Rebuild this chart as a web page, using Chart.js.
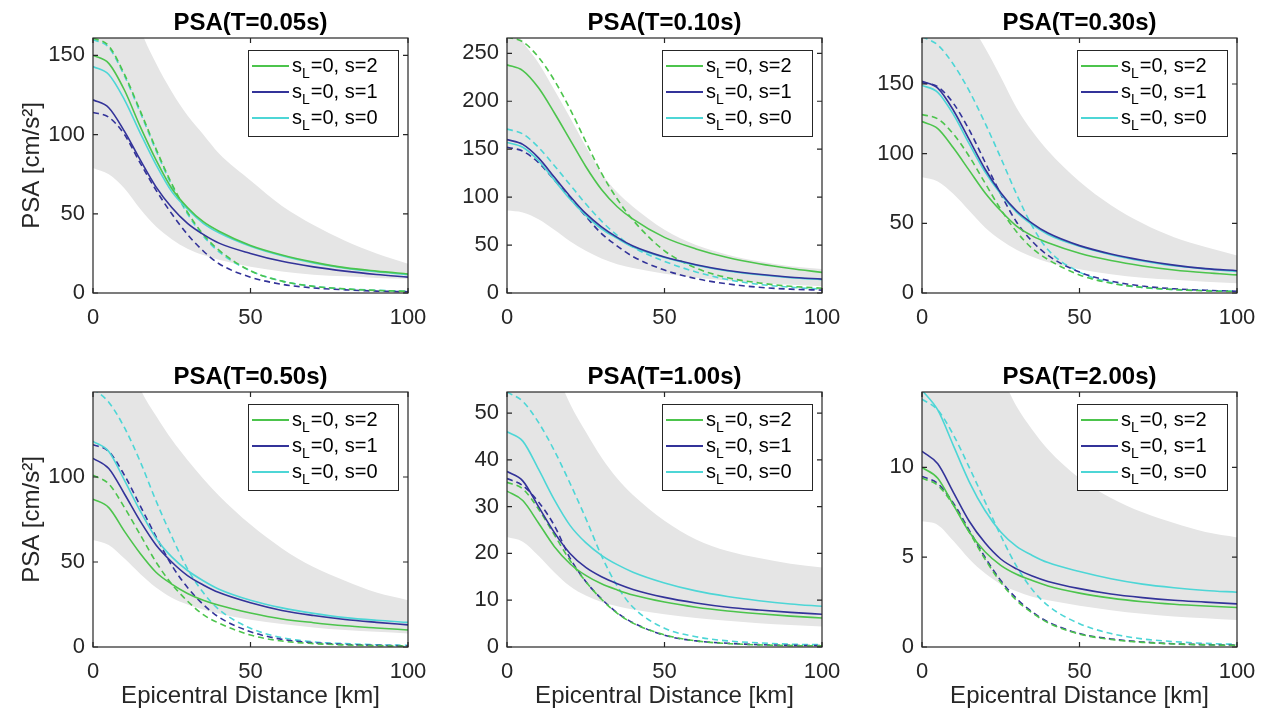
<!DOCTYPE html>
<html>
<head>
<meta charset="utf-8">
<title>PSA vs epicentral distance</title>
<script src="https://cdn.jsdelivr.net/npm/chart.js@4.4.1/dist/chart.umd.min.js"></script>
<style>
  html, body { margin: 0; padding: 0; background: #fff; }
  #wrap { position: relative; width: 1263px; height: 716px; overflow: hidden; }
  #wrap canvas { position: absolute; }
</style>
</head>
<body>
<div id="wrap"></div>
<script>
const distance = [0, 5, 10, 15, 20, 25, 30, 35, 40, 50, 60, 70, 80, 90, 100];
const periods = ['0.05', '0.10', '0.30', '0.50', '1.00', '2.00'];
const yMax = [161, 266, 183, 150, 54.5, 14.2];
const yTicks = [
  [0, 50, 100, 150],
  [0, 50, 100, 150, 200, 250],
  [0, 50, 100, 150],
  [0, 50, 100],
  [0, 10, 20, 30, 40, 50],
  [0, 5, 10]
];
const xTicks = [0, 50, 100];
const legendLabels = ['s_L=0, s=2', 's_L=0, s=1', 's_L=0, s=0'];

// one row per period (T = 0.05, 0.10, 0.30, 0.50, 1.00, 2.00 s)
const bandLow = [
  [79, 75, 66, 53, 42, 34, 28, 24, 21, 16.5, 13.5, 11.5, 10.5, 9.5, 9],
  [86, 84, 77, 66, 54, 44, 36, 30, 26, 20, 16, 13, 10.5, 8.5, 7],
  [83, 80, 71, 59, 47, 38, 31, 26, 22, 17, 13.5, 11, 9.5, 8, 7],
  [63, 60, 52, 43, 35, 29, 25, 22, 19.5, 16, 13.5, 11.5, 10, 9, 8],
  [23.5, 22.5, 19.5, 16, 13, 11, 9.6, 8.7, 8, 7, 6.2, 5.6, 5.1, 4.7, 4.4],
  [7, 6.8, 5.9, 4.9, 4.1, 3.5, 3.1, 2.8, 2.6, 2.3, 2.05, 1.85, 1.7, 1.6, 1.5]
];
const bandHigh = [
  [235, 225, 200, 167, 145, 127, 112, 100, 88, 71, 55, 43, 33, 25, 18.5],
  [290, 262, 240, 212, 183, 153, 125, 105, 90, 66, 50, 40, 33, 28, 25],
  [260, 240, 215, 195, 176, 155, 133, 116, 102, 80, 63, 50, 40, 33, 27],
  [230, 205, 178, 152, 136, 122, 110, 99, 89, 72, 58, 47, 39, 32, 27.5],
  [85, 78, 70, 60, 52, 46, 40.5, 36, 32.5, 27, 23, 20.5, 19, 17.8, 17],
  [24, 23, 21, 19, 17, 15.2, 13.4, 12.1, 11, 9.4, 8.3, 7.5, 6.9, 6.4, 6.1]
];
const solidS2 = [
  [150, 145, 128, 105, 84, 66, 54, 45, 39, 30, 24, 19.5, 16, 13.8, 12],
  [238, 232, 214, 188, 160, 132, 108, 90, 77, 58, 46, 37, 30.5, 25.5, 21.5],
  [123, 118, 104, 88, 72, 59, 48, 41, 36, 28.5, 23.3, 19.4, 16.5, 14.5, 13],
  [87, 82, 68, 55, 44, 37, 31.5, 27.5, 24.5, 20, 16.5, 14.3, 12.5, 11.2, 10],
  [33.3, 31.3, 26.5, 21.5, 17.8, 15.3, 13.5, 12.2, 11.1, 9.6, 8.5, 7.7, 7.1, 6.6, 6.2],
  [10, 9.4, 7.9, 6.4, 5.3, 4.55, 4.05, 3.7, 3.4, 3, 2.72, 2.52, 2.38, 2.28, 2.2]
];
const solidS1 = [
  [122, 117, 102, 84, 67, 54, 44, 37, 31.5, 25, 20, 16.5, 13.8, 11.7, 10],
  [160, 155, 141, 121, 101, 83, 69, 58, 49, 37.5, 29.5, 23.5, 19.5, 16.5, 14.5],
  [152, 147, 131, 110, 89, 72, 59, 50, 43, 34, 28, 23.5, 20, 17.5, 16],
  [111, 105, 90, 74, 60, 50, 42, 36.5, 32, 26, 21.5, 18.5, 16.2, 14.5, 13],
  [37.5, 35.5, 30, 24.5, 20, 17, 15, 13.5, 12.3, 10.6, 9.4, 8.5, 7.9, 7.4, 7],
  [10.9, 10.2, 8.6, 7, 5.8, 4.9, 4.35, 3.95, 3.65, 3.25, 2.95, 2.75, 2.6, 2.5, 2.4]
];
const solidS0 = [
  [143, 138, 122, 101, 81, 64, 53, 44, 38, 29.5, 23.5, 19, 15.7, 13.4, 11.6],
  [157, 152, 138, 118, 98, 81, 67, 57, 48, 37, 29, 23, 19, 16, 14],
  [149, 144, 128, 107, 87, 71, 58, 49, 42, 33.5, 27.5, 23, 19.5, 17.3, 15.5],
  [121, 115, 98, 80, 64, 53, 45, 39, 34, 27.5, 23, 19.8, 17.3, 15.7, 14.5],
  [46, 44, 38, 31.5, 26, 22.3, 19.6, 17.6, 16, 13.7, 12, 10.8, 9.9, 9.2, 8.7],
  [14.3, 13.2, 11.2, 9.2, 7.6, 6.4, 5.6, 5.1, 4.7, 4.2, 3.8, 3.5, 3.3, 3.15, 3.05]
];
const dashedS2 = [
  [161, 156, 138, 115, 91, 69, 51, 37, 27, 14, 7.5, 4.2, 2.6, 1.6, 1],
  [267, 262, 246, 222, 192, 158, 125, 98, 76, 44, 26, 16, 10.5, 7, 5],
  [128, 125, 114, 98, 79, 60, 44, 32, 24, 13, 7, 4, 2.5, 1.5, 1],
  [101, 96, 82, 66, 50, 37, 27, 19, 14, 7, 3.5, 2, 1.2, 0.8, 0.5],
  [35.2, 33.8, 29.5, 24, 18.5, 14, 10.2, 7.2, 5.1, 2.6, 1.3, 0.75, 0.45, 0.3, 0.25],
  [9.4, 9, 7.9, 6.4, 4.9, 3.6, 2.6, 1.9, 1.35, 0.72, 0.42, 0.26, 0.17, 0.12, 0.09]
];
const dashedS1 = [
  [114, 111, 100, 82, 65, 50, 37, 26.5, 18.5, 10, 5.5, 3.2, 2, 1.2, 0.8],
  [152, 148, 136, 118, 99, 80, 62, 49, 38, 24, 15, 9.5, 6, 4, 3],
  [151, 148, 136, 117, 94, 71, 51, 37, 27, 15, 8.5, 5, 3, 2, 1.2],
  [119, 115, 101, 83, 65, 48, 35, 25, 17.5, 9, 4.5, 2.5, 1.5, 1, 0.7],
  [36, 34.5, 31, 26, 19, 14, 10.3, 7.3, 5.2, 2.5, 1.3, 0.8, 0.5, 0.35, 0.3],
  [9.5, 9.1, 8, 6.5, 5, 3.7, 2.7, 1.95, 1.4, 0.75, 0.45, 0.28, 0.18, 0.13, 0.1]
];
const dashedS0 = [
  [160, 155, 137, 114, 90, 68, 50, 36, 26, 14, 7.5, 4.2, 2.6, 1.7, 1.1],
  [171, 166, 152, 133, 113, 93, 75, 60, 48, 33, 22, 14, 9, 6, 4],
  [184, 178, 164, 145, 122, 97, 71, 48, 31, 15, 7.5, 4, 2.5, 1.8, 1.3],
  [152, 144, 129, 109, 86, 65, 46, 32, 22, 11, 5.5, 3, 2, 1.3, 1],
  [54.5, 52.5, 48, 42, 35, 27.5, 19.5, 13, 8.5, 4, 2.2, 1.3, 0.9, 0.6, 0.5],
  [13.8, 13.2, 11.8, 10, 8.1, 6.2, 4.5, 3.2, 2.3, 1.3, 0.75, 0.45, 0.3, 0.2, 0.15]
];

const FONT = "'Liberation Sans', Arial, Helvetica, sans-serif";
const axisColor = '#262626';
const green = '#4cc44c';
const blue = '#333399';
const cyan = '#4dd6d6';
const bandColor = '#e5e5e5';

Chart.defaults.font.family = FONT;

// box around the axes with inward ticks on all four sides (matlab "box on")
const boxPlugin = {
  id: 'matlabBox',
  afterDatasetsDraw(chart) {
    const { ctx, chartArea: a, scales: { x, y } } = chart;
    ctx.save();
    ctx.strokeStyle = axisColor;
    ctx.lineWidth = 1.2;
    ctx.strokeRect(a.left, a.top, a.right - a.left, a.bottom - a.top);
    ctx.beginPath();
    x.ticks.forEach(t => {
      const px = x.getPixelForValue(t.value);
      ctx.moveTo(px, a.bottom); ctx.lineTo(px, a.bottom - 5);
      ctx.moveTo(px, a.top); ctx.lineTo(px, a.top + 5);
    });
    y.ticks.forEach(t => {
      const py = y.getPixelForValue(t.value);
      ctx.moveTo(a.left, py); ctx.lineTo(a.left + 5, py);
      ctx.moveTo(a.right, py); ctx.lineTo(a.right - 5, py);
    });
    ctx.stroke();
    ctx.restore();
  }
};

// legend box in the upper right, label "s_L" drawn with a subscript L
const legendPlugin = {
  id: 'boxLegend',
  afterDraw(chart) {
    const { ctx, chartArea: a } = chart;
    const items = chart.data.datasets.filter(d => d.inLegend);
    const left = a.left + 155, top = a.top + 12, w = 150, h = 86;
    ctx.save();
    ctx.fillStyle = '#fff';
    ctx.fillRect(left, top, w, h);
    ctx.strokeStyle = axisColor;
    ctx.lineWidth = 1;
    ctx.strokeRect(left + 0.5, top + 0.5, w, h);
    items.forEach((d, k) => {
      const cy = top + 16 + k * 26;
      ctx.strokeStyle = d.borderColor;
      ctx.lineWidth = 1.8;
      ctx.beginPath();
      ctx.moveTo(left + 4, cy); ctx.lineTo(left + 41, cy);
      ctx.stroke();
      const [base, rest] = d.label.split('_L');
      ctx.fillStyle = '#000';
      ctx.textBaseline = 'middle';
      ctx.font = '20px ' + FONT;
      ctx.fillText(base, left + 44, cy);
      const bw = ctx.measureText(base).width;
      ctx.font = '14px ' + FONT;
      ctx.fillText('L', left + 44 + bw, cy + 8);
      const lw = ctx.measureText('L').width;
      ctx.font = '20px ' + FONT;
      ctx.fillText(rest, left + 45 + bw + lw, cy);
    });
    ctx.restore();
  }
};

const wrap = document.getElementById('wrap');
const colLeft = [0, 414, 829];
const rowTop = [0, 354];

periods.forEach((p, i) => {
  const col = i % 3, row = Math.floor(i / 3);
  const canvas = document.createElement('canvas');
  canvas.width = 432;
  canvas.height = row === 0 ? 333 : 362;
  canvas.style.left = colLeft[col] + 'px';
  canvas.style.top = rowTop[row] + 'px';
  wrap.appendChild(canvas);

  const pts = arr => distance.map((d, k) => ({ x: d, y: arr[i][k] }));
  const line = (label, arr, color, dashed, inLegend) => ({
    label, data: pts(arr), borderColor: color, borderWidth: 1.6,
    borderDash: dashed ? [6, 4] : [], pointRadius: 0, fill: false,
    cubicInterpolationMode: 'monotone', inLegend, order: 1
  });

  new Chart(canvas, {
    type: 'line',
    data: {
      datasets: [
        { label: 'band low', data: pts(bandLow), borderColor: 'rgba(0,0,0,0)', borderWidth: 0,
          pointRadius: 0, fill: false, cubicInterpolationMode: 'monotone', order: 10 },
        { label: 'band high', data: pts(bandHigh), borderColor: 'rgba(0,0,0,0)', borderWidth: 0,
          backgroundColor: bandColor, pointRadius: 0, fill: '-1', cubicInterpolationMode: 'monotone', order: 10 },
        line(legendLabels[0], solidS2, green, false, true),
        line(legendLabels[1], solidS1, blue, false, true),
        line(legendLabels[2], solidS0, cyan, false, true),
        line('dashed s=2', dashedS2, green, true, false),
        line('dashed s=1', dashedS1, blue, true, false),
        line('dashed s=0', dashedS0, cyan, true, false)
      ]
    },
    options: {
      responsive: false,
      animation: false,
      events: [],
      layout: { padding: { left: 0, top: 0, right: 24, bottom: 0 } },
      plugins: {
        legend: { display: false },
        tooltip: { enabled: false },
        title: {
          display: true, text: 'PSA(T=' + p + 's)', fullSize: false, color: '#000',
          font: { size: 24, weight: 'bold' }, padding: { top: 9, bottom: 0.2 }
        }
      },
      scales: {
        x: {
          type: 'linear', min: 0, max: 100,
          grid: { display: false }, border: { display: false },
          ticks: { color: axisColor, font: { size: 22 }, padding: 4, maxRotation: 0 },
          afterBuildTicks: s => { s.ticks = xTicks.map(v => ({ value: v })); },
          title: { display: row === 1, text: 'Epicentral Distance [km]', color: axisColor,
                   font: { size: 24 }, padding: { top: 0, bottom: 5 } },
          afterFit: s => { s.height = row === 0 ? 40 : 69; }
        },
        y: {
          type: 'linear', min: 0, max: yMax[i],
          grid: { display: false, drawTicks: false }, border: { display: false },
          ticks: { color: axisColor, font: { size: 22 }, padding: 8 },
          afterBuildTicks: s => { s.ticks = yTicks[i].map(v => ({ value: v })); },
          title: { display: col === 0, text: 'PSA [cm/s²]', color: axisColor,
                   font: { size: 24 }, padding: { top: 18, bottom: 0 } },
          afterFit: s => { s.width = 93; }
        }
      }
    },
    plugins: [boxPlugin, legendPlugin]
  });
});
</script>
</body>
</html>
